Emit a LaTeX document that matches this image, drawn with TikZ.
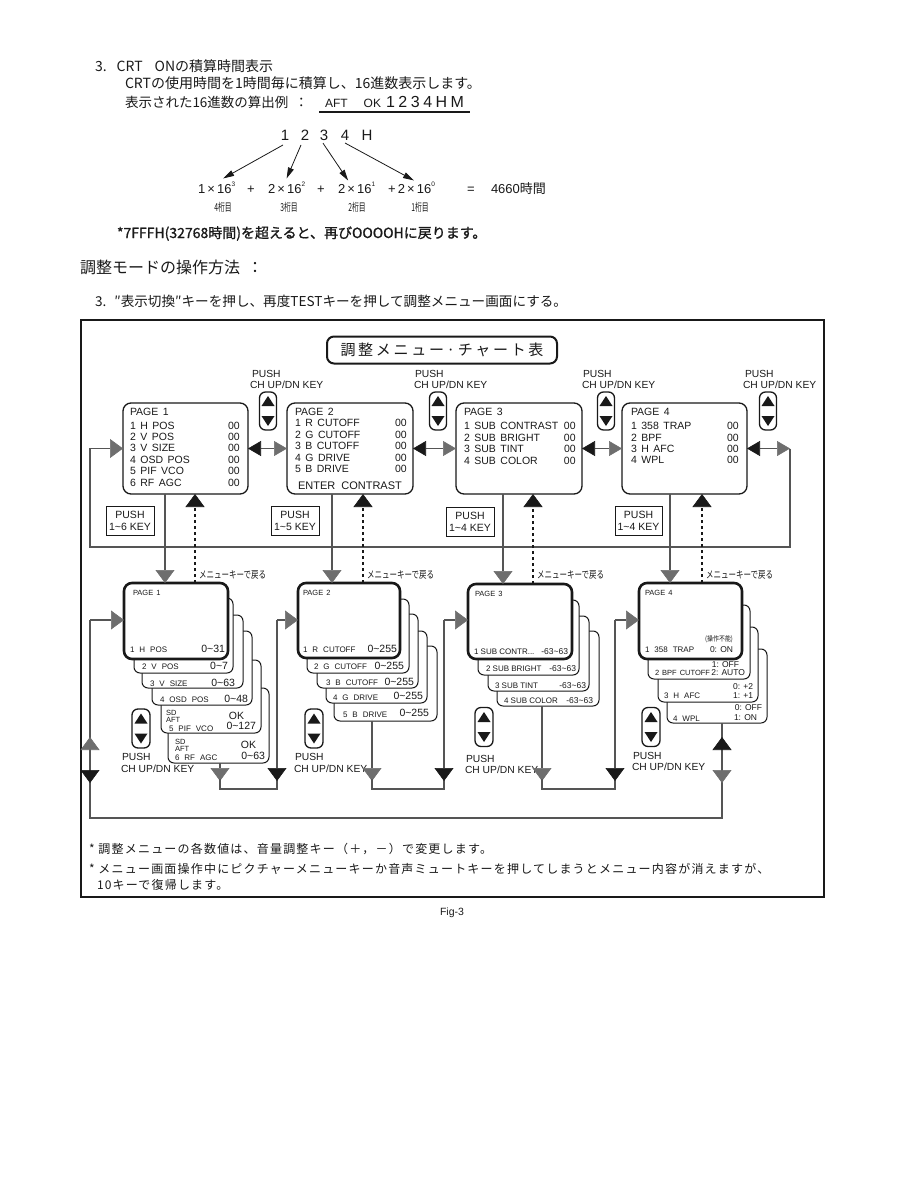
\documentclass[tikz,border=0pt]{standalone}
\usepackage{fontspec}
\usepackage{graphicx}
\setmainfont{Liberation Sans}
\newfontfamily\jpfont{Noto Sans CJK JP}
\usetikzlibrary{arrows.meta,positioning,calc}
\definecolor{inkBlack}{RGB}{25, 25, 25}
\definecolor{lineGray}{RGB}{85, 85, 85}
\definecolor{tipGray}{RGB}{110, 110, 110}
\newcommand{\wv}{\textasciitilde}
\tikzset{
  gtip/.tip={Triangle[length=13pt, width=19pt, line width=0.6pt, color=tipGray, fill=tipGray]},
  btip/.tip={Triangle[length=13pt, width=19pt, line width=0.6pt, color=inkBlack, fill=inkBlack]},
  gtipS/.tip={Triangle[length=13pt, width=15pt, line width=0.6pt, color=tipGray, fill=tipGray]},
  btipS/.tip={Triangle[length=13pt, width=15pt, line width=0.6pt, color=inkBlack, fill=inkBlack]}
}

\begin{document}
\begin{tikzpicture}[x=1pt, y=-1pt,
    every node/.style={inner sep=0pt, outer sep=0pt, text=inkBlack},
    jline/.style={anchor=base west, font=\jpfont\fontsize{14pt}{16pt}\selectfont},
    term/.style={anchor=base west, font=\fontsize{13pt}{15pt}\selectfont},
    digit/.style={anchor=base, font=\fontsize{15pt}{18pt}\selectfont},
    digitpos/.style={anchor=base, font=\jpfont\fontsize{11pt}{12pt}\selectfont},
    thinarr/.style={-{Triangle[length=11pt, width=6pt]}, line width=0.8pt, draw=inkBlack},
    chartframe/.style={draw=inkBlack, line width=1.5pt},
    titlebox/.style={draw=inkBlack, rounded corners=7pt, line width=2pt, minimum width=230pt, minimum height=27pt, font=\jpfont\fontsize{15pt}{18pt}\selectfont\addfontfeatures{LetterSpace=18}},
    pushlbl/.style={anchor=base west, font=\fontsize{10.3pt}{12pt}\selectfont},
    updn/.style={draw=inkBlack, rounded corners=6pt, line width=1.3pt, minimum width=17pt, minimum height=38pt,
      path picture={
        \fill[inkBlack, sharp corners] ($(path picture bounding box.center)+(0,-15)$) -- ++(6.5,10) -- ++(-13,0) -- cycle;
        \fill[inkBlack, sharp corners] ($(path picture bounding box.center)+(0,15)$) -- ++(6.5,-10) -- ++(-13,0) -- cycle;}},
    menubox/.style={draw=inkBlack, rounded corners=8pt, line width=1.3pt, minimum width=125pt, minimum height=91pt},
    menutext/.style={anchor=north west, font={\fontsize{10.5pt}{11.4pt}\selectfont\spaceskip=4.5pt plus 1pt\relax}},
    keybox/.style={draw=inkBlack, line width=1pt, minimum width=48pt, minimum height=29pt, align=center, font=\fontsize{10.5pt}{12pt}\selectfont},
    backlbl/.style={anchor=base west, font=\jpfont\fontsize{10pt}{11pt}\selectfont},
    card/.style={draw=inkBlack, fill=white, rounded corners=6pt, line width=1pt},
    topcard/.style={card, line width=2.6pt, rounded corners=8pt},
    cardlbl/.style={anchor=base west, font={\fontsize{8pt}{9pt}\selectfont\spaceskip=5pt plus 1pt\relax}},
    cardsmall/.style={anchor=base west, font={\fontsize{7.5pt}{8pt}\selectfont\spaceskip=3pt\relax}},
    cardval/.style={anchor=base east, font=\fontsize{10.5pt}{11pt}\selectfont},
    cardopt/.style={anchor=base east, font=\fontsize{8.5pt}{9pt}\selectfont},
    conn/.style={draw=lineGray, line width=1.6pt},
    backdots/.style={draw=inkBlack, line width=2.4pt, dash pattern=on 3pt off 3pt},
    note/.style={anchor=base west, font=\jpfont\fontsize{12pt}{14pt}\selectfont\addfontfeatures{LetterSpace=10}}
  ]
  \useasboundingbox (0,0) rectangle (918,1188);

  % CRT ON TIME
  \node[jline] (hd1) at (95,72) {3.\hspace{10pt}CRT\hspace{12pt}ONの積算時間表示};
  \node[jline] (hd2) at (125,89) {CRTの使用時間を1時間毎に積算し、16進数表示します。};
  \node[jline, font=\jpfont\fontsize{13.5pt}{16pt}\selectfont] (hd3) at (125,108) {表示された16進数の算出例\ \ ：};
  \node[anchor=base west, font=\fontsize{12pt}{14pt}\selectfont] (aft) at (325,108) {AFT\hspace{16pt}OK\hspace{5pt}{\fontsize{16pt}{18pt}\selectfont\addfontfeatures{LetterSpace=22}1234HM}};
  \draw[line width=1.2pt, draw=inkBlack] ($(aft.base west)+(-6,4)$) -- ($(aft.base east)+(6,4)$);

  \node[digit] (dg1) at (285,140) {1};
  \node[digit] (dg2) at (305,140) {2};
  \node[digit] (dg3) at (324,140) {3};
  \node[digit] (dg4) at (345,140) {4};
  \node[digit] (dgH) at (367,140) {H};

  \node[term] (t1) at (198,193) {1\,×\,16\raisebox{6pt}{\fontsize{6.5pt}{7pt}\selectfont 3}};
  \node[term] (pl1) at (247,193) {+};
  \node[term] (t2) at (268,193) {2\,×\,16\raisebox{6pt}{\fontsize{6.5pt}{7pt}\selectfont 2}};
  \node[term] (pl2) at (317,193) {+};
  \node[term] (t3) at (338,193) {2\,×\,16\raisebox{6pt}{\fontsize{6.5pt}{7pt}\selectfont 1}};
  \node[term] (t4) at (388,193) {+\,2\,×\,16\raisebox{6pt}{\fontsize{6.5pt}{7pt}\selectfont 0}};
  \node[term] (eq) at (467,193) {=};
  \node[term] (sum) at (491,193) {4660{\jpfont 時間}};

  \draw[thinarr] ($(dg1.south)+(-2,5)$) -- ($(t1.north)+(6.5,-4)$);
  \draw[thinarr] ($(dg2.south)+(-4,5)$) -- ($(t2.north)+(0,-4)$);
  \draw[thinarr] ($(dg3.south)+(-1,3)$) -- ($(t3.north)+(-8.5,-2)$);
  \draw[thinarr] ($(dg4.south)+(0,3)$) -- ($(t4.north)+(2.5,-2)$);

  \node[digitpos] (pos4) at (223,211) {\scalebox{0.62}[1]{4桁目}};
  \node[digitpos] (pos3) at (289,211) {\scalebox{0.62}[1]{3桁目}};
  \node[digitpos] (pos2) at (357,211) {\scalebox{0.62}[1]{2桁目}};
  \node[digitpos] (pos1) at (420,211) {\scalebox{0.62}[1]{1桁目}};

  \node[jline, font=\jpfont\fontsize{14pt}{16pt}\selectfont\addfontfeatures{FakeBold=1.2}] (hd4) at (117,238) {*7FFFH(32768時間)を超えると、再びOOOOHに戻ります。};

  % ADJUSTMENT MODE
  \node[jline, font=\jpfont\fontsize{16pt}{18pt}\selectfont] (hd5) at (80,273) {調整モードの操作方法\ \ ：};
  \node[jline, font=\jpfont\fontsize{13.6pt}{16pt}\selectfont] (hd6) at (95,306) {3.\hspace{8pt}″表示切換″キーを押し、再度TESTキーを押して調整メニュー画面にする。};

  % CHART
  \draw[chartframe] (81,320) rectangle (824,897);
  \node[titlebox] (ttl) at (442,350) {調整メニュー·チャート表};

  \node[pushlbl] (pushA) at (252,377) {PUSH};
  \node[pushlbl] (keyA) at (250,388) {CH UP/DN KEY};
  \node[pushlbl] (pushB) at (415,377) {PUSH};
  \node[pushlbl] (keyB) at (414,388) {CH UP/DN KEY};
  \node[pushlbl] (pushC) at (583,377) {PUSH};
  \node[pushlbl] (keyC) at (582,388) {CH UP/DN KEY};
  \node[pushlbl] (pushD) at (745,377) {PUSH};
  \node[pushlbl] (keyD) at (743,388) {CH UP/DN KEY};
  \node[updn] (ud1) at (268,411) {};
  \node[updn] (ud2) at (438,411) {};
  \node[updn] (ud3) at (606,411) {};
  \node[updn] (ud4) at (768,411) {};

  % TOP MENU PAGES
  \node[menubox] (p1) at (185.5,448.5) {};
  \node[menubox, minimum width=126pt] (p2) at (350,448.5) {};
  \node[menubox, minimum width=126pt] (p3) at (519,448.5) {};
  \node[menubox] (p4) at (684.5,448.5) {};

  \node[menutext] (p1txt) at ($(p1.north west)+(7,5)$) {\begin{tabular}{@{}p{98pt}@{}r@{}}
    PAGE 1 & \\[1.7pt]
    1 H POS & 00\\
    2 V POS & 00\\
    3 V SIZE & 00\\
    4 OSD POS & 00\\
    5 PIF VCO & 00\\
    6 RF AGC & 00
  \end{tabular}};
  \node[menutext] (p2txt) at ($(p2.north west)+(8,5)$) {\begin{tabular}{@{}p{100pt}@{}r@{}}
    PAGE 2 & \\[-0.5pt]
    1 R CUTOFF & 00\\
    2 G CUTOFF & 00\\
    3 B CUTOFF & 00\\
    4 G DRIVE & 00\\
    5 B DRIVE & 00
  \end{tabular}};
  \node[anchor=base, font={\fontsize{11pt}{12pt}\selectfont\spaceskip=6pt\relax}] (p2ent) at ($(p2.south)+(0,-5)$) {ENTER CONTRAST};
  \node[menutext] (p3txt) at ($(p3.north west)+(8,5)$) {\begin{tabular}{@{}p{100pt}@{}r@{}}
    PAGE 3 & \\[2.6pt]
    1 SUB CONTRAST & 00\\
    2 SUB BRIGHT & 00\\
    3 SUB TINT & 00\\
    4 SUB COLOR & 00
  \end{tabular}};
  \node[menutext] (p4txt) at ($(p4.north west)+(9,5)$) {\begin{tabular}{@{}p{96pt}@{}r@{}}
    PAGE 4 & \\[2.3pt]
    1 358 TRAP & 00\\
    2 BPF & 00\\
    3 H AFC & 00\\
    4 WPL & 00
  \end{tabular}};

  \node[keybox] (k1) at (130,520.5) {PUSH\\1\wv6 KEY};
  \node[keybox] (k2) at (295,520.5) {PUSH\\1\wv5 KEY};
  \node[keybox] (k3) at (470,521.5) {PUSH\\1\wv4 KEY};
  \node[keybox, minimum width=47pt] (k4) at (638.5,521) {PUSH\\1\wv4 KEY};

  % PAGE 1 STACK
  \node[card, minimum width=101pt, minimum height=75pt] (s1c6) at (218.5,725.5) {};
  \node[card, minimum width=100pt, minimum height=73pt] (s1c5) at (211,696.5) {};
  \node[card, minimum width=100pt, minimum height=74pt] (s1c4) at (202,668) {};
  \node[card, minimum width=101pt, minimum height=73pt] (s1c3) at (192.5,651.5) {};
  \node[card, minimum width=99pt, minimum height=75pt] (s1c2) at (183.5,635.5) {};
  \node[topcard, minimum width=104pt, minimum height=76pt] (s1c1) at (176,621) {};
  \node[cardsmall] (s1pg) at (133,595) {PAGE 1};
  \node[cardlbl] (s1l1) at (130,652) {1 H POS};
  \node[cardval] (s1v1) at (225,652) {0\wv31};
  \node[cardlbl] (s1l2) at (142,669) {2 V POS};
  \node[cardval] (s1v2) at (228,669) {0\wv7};
  \node[cardlbl] (s1l3) at (150,686) {3 V SIZE};
  \node[cardval] (s1v3) at (235,686) {0\wv63};
  \node[cardlbl] (s1l4) at (160,702) {4 OSD POS};
  \node[cardval] (s1v4) at (248,702) {0\wv48};
  \node[cardsmall] (s1sd5) at (166,715) {SD};
  \node[cardsmall] (s1af5) at (166,722) {AFT};
  \node[cardlbl] (s1l5) at (169,731) {5 PIF VCO};
  \node[cardval] (s1ok5) at (244,719) {OK};
  \node[cardval] (s1v5) at (256,729) {0\wv127};
  \node[cardsmall] (s1sd6) at (175,744) {SD};
  \node[cardsmall] (s1af6) at (175,751) {AFT};
  \node[cardlbl] (s1l6) at (175,760) {6 RF AGC};
  \node[cardval] (s1ok6) at (256,748) {OK};
  \node[cardval] (s1v6) at (265,759) {0\wv63};

  % PAGE 2 STACK
  \node[card, minimum width=103pt, minimum height=75pt] (s2c5) at (385.5,683.5) {};
  \node[card, minimum width=101pt, minimum height=72pt] (s2c4) at (376.5,667) {};
  \node[card, minimum width=101pt, minimum height=74pt] (s2c3) at (367.5,651) {};
  \node[card, minimum width=102pt, minimum height=74pt] (s2c2) at (358,636) {};
  \node[topcard, minimum width=102pt, minimum height=75pt] (s2c1) at (349,620.5) {};
  \node[cardsmall] (s2pg) at (303,595) {PAGE 2};
  \node[cardlbl] (s2l1) at (303,652) {1 R CUTOFF};
  \node[cardval] (s2v1) at (397,652) {0\wv255};
  \node[cardlbl] (s2l2) at (314,669) {2 G CUTOFF};
  \node[cardval] (s2v2) at (404,669) {0\wv255};
  \node[cardlbl] (s2l3) at (326,685) {3 B CUTOFF};
  \node[cardval] (s2v3) at (414,685) {0\wv255};
  \node[cardlbl] (s2l4) at (333,700) {4 G DRIVE};
  \node[cardval] (s2v4) at (423,699) {0\wv255};
  \node[cardlbl] (s2l5) at (343,717) {5 B DRIVE};
  \node[cardval] (s2v5) at (429,716) {0\wv255};

  % PAGE 3 STACK
  \node[card, minimum width=102pt, minimum height=75pt] (s3c4) at (548,668.5) {};
  \node[card, minimum width=101pt, minimum height=75pt] (s3c3) at (538.5,653.5) {};
  \node[card, minimum width=101pt, minimum height=75pt] (s3c2) at (528.5,637.5) {};
  \node[topcard, minimum width=104pt, minimum height=75pt] (s3c1) at (520,621.5) {};
  \node[cardsmall] (s3pg) at (475,596) {PAGE 3};
  \node[cardlbl, font=\fontsize{8pt}{9pt}\selectfont] (s3l1) at (474,654) {1 SUB CONTR...};
  \node[cardval, font=\fontsize{8.5pt}{9pt}\selectfont] (s3v1) at (568,654) {-63\wv63};
  \node[cardlbl, font=\fontsize{8pt}{9pt}\selectfont] (s3l2) at (486,671) {2 SUB BRIGHT};
  \node[cardval, font=\fontsize{8.5pt}{9pt}\selectfont] (s3v2) at (576,671) {-63\wv63};
  \node[cardlbl, font=\fontsize{8pt}{9pt}\selectfont] (s3l3) at (495,688) {3 SUB TINT};
  \node[cardval, font=\fontsize{8.5pt}{9pt}\selectfont] (s3v3) at (586,688) {-63\wv63};
  \node[cardlbl, font=\fontsize{8pt}{9pt}\selectfont] (s3l4) at (504,703) {4 SUB COLOR};
  \node[cardval, font=\fontsize{8.5pt}{9pt}\selectfont] (s3v4) at (593,703) {-63\wv63};

  % PAGE 4 STACK
  \node[card, minimum width=100pt, minimum height=74pt] (s4c4) at (717,686) {};
  \node[card, minimum width=100pt, minimum height=75pt] (s4c3) at (708,664.5) {};
  \node[card, minimum width=102pt, minimum height=74pt] (s4c2) at (699,642) {};
  \node[topcard, minimum width=103pt, minimum height=76pt] (s4c1) at (690.5,621) {};
  \node[cardsmall] (s4pg) at (645,595) {PAGE 4};
  \node[anchor=base east, font=\jpfont\fontsize{7pt}{8pt}\selectfont] (s4nb) at (733,641) {\scalebox{0.85}[1]{(操作不能)}};
  \node[cardlbl] (s4l1) at (645,652) {1 358 TRAP};
  \node[cardopt] (s4v1) at (733,652) {0: ON};
  \node[cardopt] (s4o2) at (739,667) {1: OFF};
  \node[cardlbl, font={\fontsize{7.5pt}{8pt}\selectfont\spaceskip=3pt\relax}] (s4l2) at (655,675) {2 BPF CUTOFF};
  \node[cardopt] (s4v2) at (745,675) {2: AUTO};
  \node[cardopt] (s4o3) at (753,689) {0: +2};
  \node[cardlbl] (s4l3) at (664,698) {3 H AFC};
  \node[cardopt] (s4v3) at (753,698) {1: +1};
  \node[cardopt] (s4o4) at (762,710) {0: OFF};
  \node[cardlbl] (s4l4) at (673,721) {4 WPL};
  \node[cardopt] (s4v4) at (757,720) {1: ON};

  % LOWER KEYS
  \node[updn, minimum width=18pt, minimum height=39pt] (ud5) at (141,728.5) {};
  \node[updn, minimum width=18pt, minimum height=39pt] (ud6) at (314,728.5) {};
  \node[updn, minimum width=18pt, minimum height=39pt] (ud7) at (484,727) {};
  \node[updn, minimum width=18pt, minimum height=39pt] (ud8) at (651,727) {};
  \node[pushlbl] (pushE) at (122,760) {PUSH};
  \node[pushlbl] (keyE) at (121,772) {CH UP/DN KEY};
  \node[pushlbl] (pushF) at (295,760) {PUSH};
  \node[pushlbl] (keyF) at (294,772) {CH UP/DN KEY};
  \node[pushlbl] (pushG) at (466,762) {PUSH};
  \node[pushlbl] (keyG) at (465,773) {CH UP/DN KEY};
  \node[pushlbl] (pushH) at (633,759) {PUSH};
  \node[pushlbl] (keyH) at (632,770) {CH UP/DN KEY};

  % TOP ROW LINKS
  \coordinate (la) at (90,448.5);
  \coordinate (la2) at (90,547);
  \coordinate (ra) at (790,448.5);
  \coordinate (ra2) at (790,547);
  \draw[conn, btipS-gtipS] (p1.east) -- (p2.west);
  \draw[conn, btipS-gtipS] (p2.east) -- (p3.west);
  \draw[conn, btipS-gtipS] (p3.east) -- (p4.west);
  \draw[conn, btipS-gtipS] (p4.east) -- (ra);
  \draw[conn, -gtip] (ra) -- (ra2) -- (la2) -- (la) -- (p1.west);

  % DOWN / BACK
  \draw[conn, -gtip] ($(p1.south)+(-20.5,0)$) coordinate (g1) -- (g1 |- s1c1.north);
  \draw[conn, -gtip] ($(p2.south)+(-18,0)$) coordinate (g2) -- (g2 |- s2c1.north);
  \draw[conn, -gtip] ($(p3.south)+(-16,0)$) coordinate (g3) -- (g3 |- s3c1.north);
  \draw[conn, -gtip] ($(p4.south)+(-14.5,0)$) coordinate (g4) -- (g4 |- s4c1.north);
  \draw[backdots, -btip] ($(s1c1.north)+(19,0)$) coordinate (u1) -- (u1 |- p1.south);
  \draw[backdots, -btip] ($(s2c1.north)+(14,0)$) coordinate (u2) -- (u2 |- p2.south);
  \draw[backdots, -btip] ($(s3c1.north)+(13,0)$) coordinate (u3) -- (u3 |- p3.south);
  \draw[backdots, -btip] ($(s4c1.north)+(11.5,0)$) coordinate (u4) -- (u4 |- p4.south);
  \node[backlbl] (bk1) at (199,578) {\scalebox{0.75}[1]{メニューキーで戻る}};
  \node[backlbl] (bk2) at (367,578) {\scalebox{0.75}[1]{メニューキーで戻る}};
  \node[backlbl] (bk3) at (537,578) {\scalebox{0.75}[1]{メニューキーで戻る}};
  \node[backlbl] (bk4) at (706,578) {\scalebox{0.75}[1]{メニューキーで戻る}};

  % LOWER ROW LINKS
  \coordinate (e1) at (90,620);
  \coordinate (e2) at (277,620);
  \coordinate (e3) at (444,620);
  \coordinate (e4) at (615,620);
  \coordinate (b1) at (220,789);
  \coordinate (b2) at (277,789);
  \coordinate (b3) at (372,789);
  \coordinate (b4) at (444,789);
  \coordinate (b5) at (542,789);
  \coordinate (b6) at (615,789);
  \coordinate (b7) at (722,818);
  \coordinate (b8) at (90,818);

  \draw[conn, -gtip] (s1c6.south -| b1) -- ($(b1)+(0,-8)$);
  \draw[conn] ($(b1)+(0,-10)$) -- (b1) -- (b2) -- ($(b2)+(0,-10)$);
  \draw[conn, -btip] (e2) -- ($(b2)+(0,-8)$);
  \draw[conn, -gtip] (e2) -- (e2 -| s2c1.west);

  \draw[conn, -gtip] (s2c5.south -| b3) -- ($(b3)+(0,-8)$);
  \draw[conn] ($(b3)+(0,-10)$) -- (b3) -- (b4) -- ($(b4)+(0,-10)$);
  \draw[conn, -btip] (e3) -- ($(b4)+(0,-8)$);
  \draw[conn, -gtip] (e3) -- (e3 -| s3c1.west);

  \draw[conn, -gtip] (s3c4.south -| b5) -- ($(b5)+(0,-8)$);
  \draw[conn] ($(b5)+(0,-10)$) -- (b5) -- (b6) -- ($(b6)+(0,-10)$);
  \draw[conn, -btip] (e4) -- ($(b6)+(0,-8)$);
  \draw[conn, -gtip] (e4) -- (e4 -| s4c1.west);

  \draw[conn] (s4c4.south -| b7) -- (b7) -- (b8) -- (e1);
  \draw[conn, -gtip] (e1) -- (e1 -| s1c1.west);
  \draw[conn, -btip] ($(b7)+(0,-64)$) -- ($(b7)+(0,-81)$);
  \draw[conn, -gtip] ($(b7)+(0,-52)$) -- ($(b7)+(0,-35)$);
  \draw[conn, -gtip] ($(b8)+(0,-64)$) -- ($(b8)+(0,-81)$);
  \draw[conn, -btip] ($(b8)+(0,-52)$) -- ($(b8)+(0,-35)$);

  % NOTES
  \node[note] (n1) at (89,853) {*\ 調整メニューの各数値は、音量調整キー（＋，－）で変更します。};
  \node[note] (n2) at (89,873) {*\ メニュー画面操作中にピクチャーメニューキーか音声ミュートキーを押してしまうとメニュー内容が消えますが、};
  \node[note] (n3) at (97,889) {10キーで復帰します。};

  \node[anchor=base, font=\fontsize{10.5pt}{12pt}\selectfont] (fig) at (452,915) {Fig-3};
\end{tikzpicture}
\end{document}
